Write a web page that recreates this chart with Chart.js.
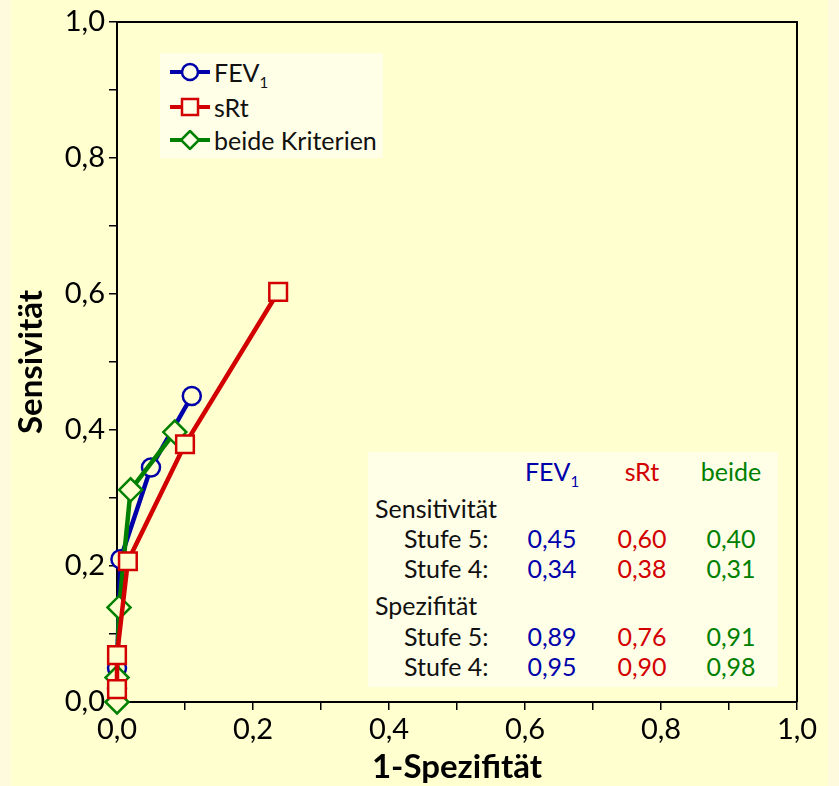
<!DOCTYPE html>
<html lang="de">
<head>
    <meta charset="UTF-8">
    <title>ROC Sensivität</title>
    <script src="https://cdn.jsdelivr.net/npm/chart.js@4.4.1/dist/chart.umd.min.js"></script>
    <style>
        body { margin: 0; background: rgb(253, 250, 222); font-family: Lato, "Noto Sans", sans-serif; }
        #wrap { position: relative; width: 839px; height: 786px; }
        .box { position: absolute; background: rgb(255, 255, 232); }
        .t { position: absolute; font-size: 25px; line-height: 28px; white-space: nowrap; color: #111; }
        .c { width: 90px; text-align: center; }
        .blue { color: rgb(0, 0, 170); }
        .red { color: rgb(210, 0, 0); }
        .green { color: rgb(0, 128, 0); }
        sub { font-size: 15px; vertical-align: -6px; line-height: 0; }
        .leg { position: absolute; left: 10px; height: 28px; display: flex; align-items: center; font-size: 25px; color: #111; }
        .leg svg { margin-right: 4px; }
    </style>
</head>
<body>
<div id="wrap">
    <canvas id="myChart" width="839" height="786"></canvas>

    <div class="box" style="left:160px; top:53px; width:223px; height:105px;">
        <div class="leg" style="top:5px;">
            <svg width="40" height="20"><line x1="0" y1="10" x2="40" y2="10" stroke="rgb(0,0,170)" stroke-width="4"/><circle cx="20" cy="10" r="8" fill="rgb(255,255,232)" stroke="rgb(0,0,170)" stroke-width="2.5"/></svg>
            <span>FEV<sub>1</sub></span>
        </div>
        <div class="leg" style="top:40px;">
            <svg width="40" height="20"><line x1="0" y1="10" x2="40" y2="10" stroke="rgb(210,0,0)" stroke-width="4"/><rect x="12" y="2" width="16" height="16" fill="rgb(255,255,232)" stroke="rgb(210,0,0)" stroke-width="2.5"/></svg>
            <span>sRt</span>
        </div>
        <div class="leg" style="top:73px;">
            <svg width="40" height="20"><line x1="0" y1="10" x2="40" y2="10" stroke="rgb(0,128,0)" stroke-width="4"/><polygon points="20,1 29,10 20,19 11,10" fill="rgb(255,255,232)" stroke="rgb(0,128,0)" stroke-width="2.5"/></svg>
            <span>beide Kriterien</span>
        </div>
    </div>

    <div class="box" id="tbl" style="left:368px; top:452px; width:410px; height:235px;"></div>
</div>

<script type="text/javascript" charset="utf-8">
    // ROC-Kurven, x = 1-Spezifität, y = Sensitivität
    var fevX = [0, 0, 0.005, 0.05, 0.11];
    var fevY = [0.02, 0.05, 0.21, 0.345, 0.45];
    var srtX = [0, 0, 0.016, 0.10, 0.237];
    var srtY = [0.019, 0.069, 0.207, 0.379, 0.603];
    var beideX = [0, 0, 0.003, 0.02, 0.085];
    var beideY = [0, 0.036, 0.139, 0.312, 0.397];

    // Tabelle im Diagramm
    var spalten = ["FEV1", "sRt", "beide"];
    var sensStufe5 = ["0,45", "0,60", "0,40"];
    var sensStufe4 = ["0,34", "0,38", "0,31"];
    var spezStufe5 = ["0,89", "0,76", "0,91"];
    var spezStufe4 = ["0,95", "0,90", "0,98"];

    var BLUE = 'rgb(0, 0, 170)', RED = 'rgb(210, 0, 0)', GREEN = 'rgb(0, 128, 0)';
    var INNER = 'rgb(255, 255, 208)';
    var FONT = 'Lato, "Noto Sans", sans-serif';

    function pts(xs, ys) {
        return xs.map(function (x, i) { return {x: x, y: ys[i]}; });
    }

    // build table
    var tbl = document.getElementById('tbl');
    var colCenter = [184, 274, 363];
    var colClass = ['blue', 'red', 'green'];
    function addText(txt, left, top, cls) {
        var d = document.createElement('div');
        d.className = 't ' + (cls || '');
        d.style.left = left + 'px';
        d.style.top = top + 'px';
        d.innerHTML = txt;
        tbl.appendChild(d);
    }
    spalten.forEach(function (s, i) {
        var txt = s === 'FEV1' ? 'FEV<sub>1</sub>' : s;
        addText(txt, colCenter[i] - 45, 5, 'c ' + colClass[i]);
    });
    addText('Sensitivität', 7, 42);
    addText('Stufe 5:', 36, 72);
    addText('Stufe 4:', 36, 102);
    addText('Spezifität', 7, 139);
    addText('Stufe 5:', 36, 170);
    addText('Stufe 4:', 36, 200);
    [[sensStufe5, 72], [sensStufe4, 102], [spezStufe5, 170], [spezStufe4, 200]].forEach(function (row) {
        row[0].forEach(function (v, i) {
            addText(v, colCenter[i] - 45, row[1], 'c ' + colClass[i]);
        });
    });

    var bgPlugin = {
        id: 'bg',
        beforeDraw: function (chart) {
            var c = chart.ctx;
            c.save();
            c.fillStyle = 'rgb(253, 250, 222)';
            c.fillRect(0, 0, chart.width, chart.height);
            c.fillStyle = INNER;
            c.fillRect(11, 0, 817, chart.height);
            c.restore();
        },
        beforeDatasetsDraw: function (chart) {
            var a = chart.chartArea, c = chart.ctx;
            c.save();
            c.strokeStyle = '#000';
            c.lineWidth = 2;
            c.beginPath();
            c.moveTo(a.left, a.top);
            c.lineTo(a.right, a.top);
            c.lineTo(a.right, a.bottom);
            c.stroke();
            c.restore();
        }
    };

    function fmt(v) {
        var k = Math.round(v * 10);
        if (k % 2 !== 0) return '';
        return (k / 10).toFixed(1).replace('.', ',');
    }

    function ds(label, xs, ys, color, style, radius, order) {
        return {
            label: label,
            data: pts(xs, ys),
            showLine: true,
            borderColor: color,
            borderWidth: 4.5,
            pointStyle: style,
            pointRadius: radius,
            pointBorderWidth: 2.5,
            pointBackgroundColor: INNER,
            pointBorderColor: color,
            clip: false,
            order: order
        };
    }

    var ctx = document.getElementById('myChart').getContext('2d');
    var chart = new Chart(ctx, {
        type: 'scatter',
        data: {
            datasets: [
                ds('FEV1', fevX, fevY, BLUE, 'circle', 9, 3),
                ds('sRt', srtX, srtY, RED, 'rect', 12.5, 1),
                ds('beide Kriterien', beideX, beideY, GREEN, 'rectRot', 11.5, 2)
            ]
        },
        options: {
            responsive: false,
            animation: false,
            layout: { padding: { left: 11, top: 22, right: 42, bottom: 0 } },
            plugins: { legend: { display: false }, tooltip: { enabled: false } },
            scales: {
                x: {
                    type: 'linear', min: 0, max: 1,
                    afterFit: function (s) { s.height = 84; },
                    ticks: { stepSize: 0.1, autoSkip: false, maxRotation: 0, padding: 2, color: '#000',
                        font: { family: FONT, size: 29 }, callback: fmt },
                    afterBuildTicks: function (s) { s.ticks = []; for (var i = 0; i <= 10; i++) s.ticks.push({value: i / 10}); },
                    grid: { drawOnChartArea: false, drawTicks: true, tickLength: 8, color: '#000', lineWidth: 1.5 },
                    border: { display: true, color: '#000', width: 2 },
                    title: { display: true, text: '1-Spezifität', color: '#000',
                        font: { family: FONT, size: 33, weight: 'bold', lineHeight: 1 }, padding: { top: 0, bottom: 2 } }
                },
                y: {
                    type: 'linear', min: 0, max: 1,
                    afterFit: function (s) { s.width = 106; },
                    ticks: { stepSize: 0.1, autoSkip: false, padding: 4, color: '#000',
                        font: { family: FONT, size: 29 }, callback: fmt },
                    afterBuildTicks: function (s) { s.ticks = []; for (var i = 0; i <= 10; i++) s.ticks.push({value: i / 10}); },
                    grid: { drawOnChartArea: false, drawTicks: true, tickLength: 8, color: '#000', lineWidth: 1.5 },
                    border: { display: true, color: '#000', width: 2 },
                    title: { display: true, text: 'Sensivität', color: '#000',
                        font: { family: FONT, size: 33, weight: 'bold', lineHeight: 1 }, padding: { top: 4, bottom: 0 } }
                }
            }
        },
        plugins: [bgPlugin]
    });
</script>
</body>
</html>
